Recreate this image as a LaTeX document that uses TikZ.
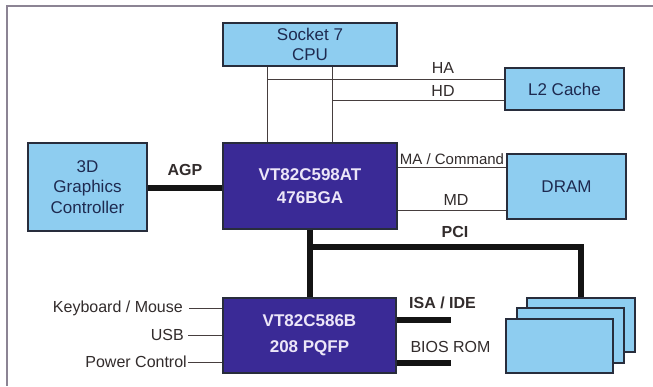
\documentclass[tikz,border=0pt]{standalone}
\usepackage{fontspec}
\setmainfont{Liberation Sans}
\usetikzlibrary{calc}
\definecolor{lightbox}{RGB}{142,205,240}
\definecolor{darkbox}{RGB}{58,42,150}
\definecolor{boxline}{RGB}{40,45,60}
\definecolor{boxtext}{RGB}{30,42,80}
\definecolor{labeltext}{RGB}{50,44,44}
\definecolor{wire}{RGB}{70,62,62}
\definecolor{frame}{RGB}{140,132,148}
\definecolor{chiptext}{RGB}{236,230,248}
\tikzset{
  lbox/.style={draw=boxline, line width=1.2pt, fill=lightbox, text=boxtext, align=center, inner sep=0pt,
    font=\fontsize{17}{20.5}\selectfont},
  chip/.style={draw=boxline, line width=1.2pt, fill=darkbox, text=chiptext, align=center, inner sep=0pt,
    font=\fontsize{17}{23}\selectfont\bfseries},
  card/.style={draw=boxline, line width=1.2pt, fill=lightbox, inner sep=0pt},
  thinwire/.style={draw=wire, line width=1pt},
  bus/.style={draw=black!92, line width=6pt},
  lbl/.style={text=labeltext, inner sep=0pt, font=\fontsize{16}{19}\selectfont},
  blbl/.style={text=labeltext, inner sep=0pt, font=\fontsize{16}{19}\selectfont\bfseries},
}
\begin{document}
\begin{tikzpicture}[x=1pt,y=-1pt]
\useasboundingbox (0,0) rectangle (653,386);
\fill[white] (0,0) rectangle (653,386);
% frame
\draw[frame, line width=2pt] (653,6) -- (7,6) -- (7,386);

% boxes
\node[lbox, minimum width=174pt, minimum height=43pt] (cpu) at (310,44.5) {Socket 7\\CPU};
\node[chip, minimum width=174pt, minimum height=86pt] (nb) at (310,186) {VT82C598AT\\476BGA};
\node[lbox, minimum width=119pt, minimum height=88pt] (gfx) at (87.5,187) {3D\\Graphics\\Controller};
\node[lbox, minimum width=119pt, minimum height=42pt] (l2) at (564.5,89) {L2 Cache};
\node[lbox, minimum width=119pt, minimum height=65pt] (dram) at (566.5,186.5) {DRAM};
\node[chip, minimum width=173pt, minimum height=75pt] (sb) at (309.5,335.5) {VT82C586B\\[3pt]208 PQFP};
\node[card, minimum width=108pt, minimum height=54pt] (c3) at (581,325) {};
\node[card, minimum width=107pt, minimum height=55pt] (c2) at (570.5,335.5) {};
\node[card, minimum width=107pt, minimum height=54pt] (c1) at (559.5,346) {};

% CPU bus wires
\coordinate (va) at (267,0);
\coordinate (vb) at (332,0);
\coordinate (ha) at (0,79);
\coordinate (hd) at (0,100);
\draw[thinwire] (va |- cpu.south) -- (va |- nb.north);
\draw[thinwire] (vb |- cpu.south) -- (vb |- nb.north);
\draw[thinwire] (va |- ha) -- (l2.west |- ha);
\draw[thinwire] (vb |- hd) -- (l2.west |- hd);
\node[lbl] (tha) at (443,68) {HA};
\node[lbl] (thd) at (443,91) {HD};

% DRAM wires
\coordinate (ma) at (0,167);
\coordinate (md) at (0,210);
\draw[thinwire] (nb.east |- ma) -- (dram.west |- ma);
\draw[thinwire] (nb.east |- md) -- (dram.west |- md);
\node[lbl, font=\fontsize{15}{18}\selectfont] (tma) at (452,159) {MA / Command};
\node[lbl] (tmd) at (456,200) {MD};

% AGP
\coordinate (agp) at (0,187.5);
\draw[bus] (gfx.east |- agp) -- (nb.west |- agp);
\node[blbl] (tagp) at (185,170) {AGP};

% PCI
\coordinate (pv) at (310,0);
\coordinate (ph) at (0,246.5);
\coordinate (pr) at (581,0);
\draw[bus] (pv |- nb.south) -- (pv |- sb.north);
\draw[bus, line join=miter] (pv |- ph) -- (pr |- ph) -- (pr |- c3.north);
\node[blbl] (tpci) at (455,232) {PCI};

% ISA / BIOS
\coordinate (isa) at (451,319.5);
\coordinate (bios) at (451,363);
\draw[bus] (sb.east |- isa) -- (isa);
\draw[bus] (sb.east |- bios) -- (bios);
\node[blbl] (tisa) at (442.5,303) {ISA / IDE};
\node[lbl] (tbios) at (450.5,347) {BIOS ROM};

% left side
\coordinate (kb) at (189,308);
\coordinate (usb) at (188,335);
\coordinate (pwr) at (188,362);
\draw[thinwire] (kb) -- (sb.west |- kb);
\draw[thinwire] (usb) -- (sb.west |- usb);
\draw[thinwire] (pwr) -- (sb.west |- pwr);
\node[lbl, anchor=east] (tkb) at (183,308) {Keyboard / Mouse};
\node[lbl, anchor=east] (tusb) at (184,335) {USB};
\node[lbl, anchor=east] (tpwr) at (187,362) {Power Control};
\end{tikzpicture}
\end{document}
